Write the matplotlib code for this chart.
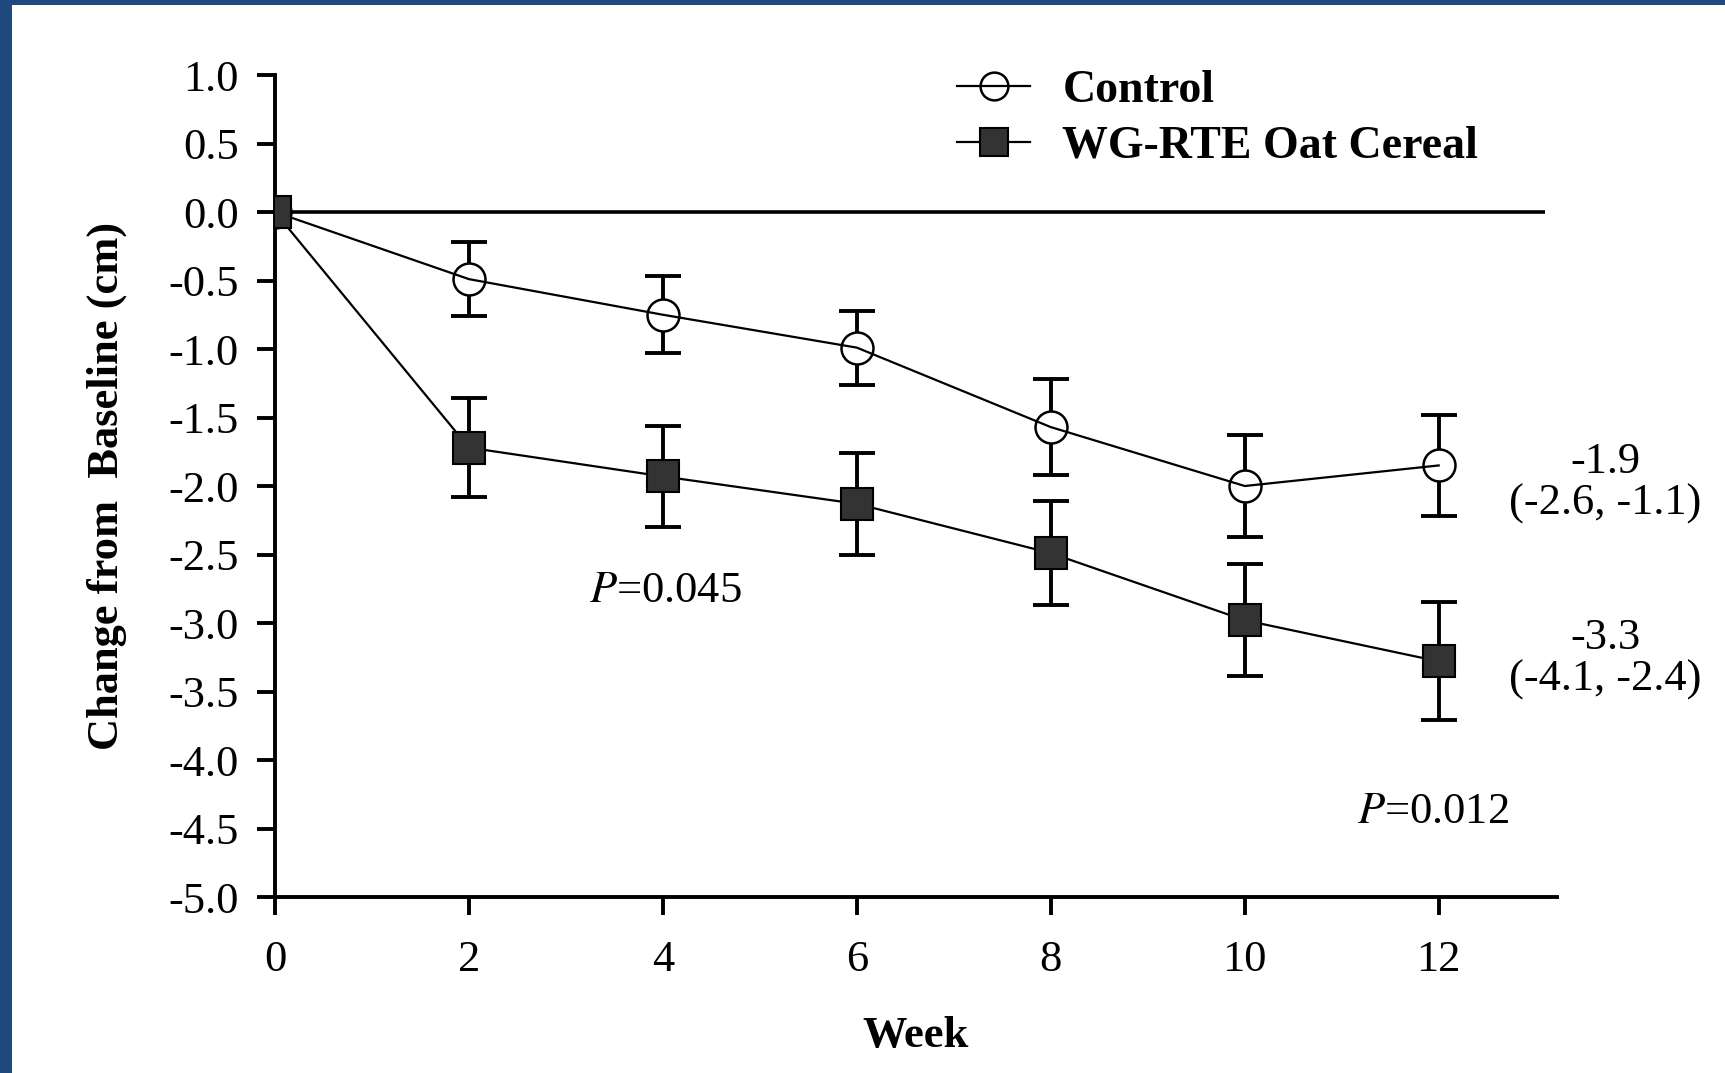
import matplotlib
matplotlib.use("Agg")
import matplotlib.pyplot as plt
from matplotlib.lines import Line2D
from matplotlib.patches import Rectangle
import numpy as np

plt.rcParams['font.family'] = ['Liberation Serif', 'DejaVu Serif']
plt.rcParams['mathtext.fontset'] = 'stix'
plt.rcParams['axes.unicode_minus'] = False

# data (change from baseline, cm)
weeks = [0, 2, 4, 6, 8, 10, 12]
control_mean = [0, -0.49, -0.75, -0.99, -1.57, -2.00, -1.85]
control_err = [0, 0.27, 0.28, 0.27, 0.35, 0.37, 0.37]
oat_mean = [0, -1.72, -1.93, -2.13, -2.49, -2.98, -3.28]
oat_err = [0, 0.36, 0.37, 0.37, 0.38, 0.41, 0.43]

yticks = np.arange(-5.0, 1.01, 0.5)
xticks = [0, 2, 4, 6, 8, 10, 12]

fs = 32

fig = plt.figure(figsize=(17.25, 10.73), dpi=100, facecolor='#1e4a7d')
# white page inside the blue frame
fig.patches.append(Rectangle((12 / 1725, 0), 1, (1073 - 5) / 1073,
                             transform=fig.transFigure, facecolor='white',
                             edgecolor='none', zorder=-10))

ax = fig.add_axes([275 / 1725, 176 / 1073, (1557 - 275) / 1725, 822 / 1073])
ax.set_facecolor('none')
ax.set_zorder(5)

# zero reference line
ax.plot([0, 13.1], [0, 0], color='black', lw=2.6, zorder=1, solid_capstyle='butt')

# error bars
ax.errorbar(weeks[1:], control_mean[1:], yerr=control_err[1:], fmt='none',
            ecolor='black', elinewidth=2.8, capsize=13, capthick=2.8, zorder=2)
ax.errorbar(weeks[1:], oat_mean[1:], yerr=oat_err[1:], fmt='none',
            ecolor='black', elinewidth=2.8, capsize=13, capthick=2.8, zorder=2)

# control: white circles, line drawn over them
ax.plot(weeks, control_mean, 'o', ms=23, mfc='white', mec='black', mew=1.8, zorder=3)
ax.plot(weeks, control_mean, '-', color='black', lw=1.6, zorder=4)

# oat cereal: filled squares
ax.plot(weeks, oat_mean, '-', color='black', lw=1.6, zorder=3)
ax.plot(weeks, oat_mean, 's', ms=23, mfc='#333333', mec='black', mew=1.5, zorder=5)

ax.set_xlim(0, 13.22)
ax.set_ylim(-5.0, 1.0)
ax.set_xticks(xticks)
ax.set_xticklabels([str(w) for w in xticks])
ax.set_yticks(yticks)
ax.set_yticklabels(['%.1f' % v for v in yticks])

for s in ['top', 'right']:
    ax.spines[s].set_visible(False)
for s in ['left', 'bottom']:
    ax.spines[s].set_linewidth(2.8)
ax.tick_params(axis='both', direction='out', length=13, width=2.8,
               labelsize=fs, color='black')
ax.tick_params(axis='y', pad=13)
ax.tick_params(axis='x', pad=18)

ax.set_xlabel('Week', fontsize=fs, fontweight='bold', labelpad=26)
ax.set_ylabel('Change from  Baseline (cm)', fontsize=fs, fontweight='bold', labelpad=30)

# annotations
ax.text(4.03, -2.77, '$P$=0.045', fontsize=fs, ha='center', va='center')
ax.text(11.94, -4.38, '$P$=0.012', fontsize=fs, ha='center', va='center')
ax.text(13.72, -1.98, '-1.9\n(-2.6, -1.1)', fontsize=fs, ha='center', va='center',
        linespacing=1.05, clip_on=False)
ax.text(13.72, -3.26, '-3.3\n(-4.1, -2.4)', fontsize=fs, ha='center', va='center',
        linespacing=1.05, clip_on=False)

handles = [
    Line2D([], [], color='black', lw=1.6, marker='o', ms=20, mfc='none', mec='black', mew=1.8),
    Line2D([], [], color='black', lw=1.6, marker='s', ms=20, mfc='#333333', mec='black', mew=1.5),
]
leg = ax.legend(handles, ['Control', 'WG-RTE Oat Cereal'], loc='upper left',
                bbox_to_anchor=(957 / 1725, 1 - 70 / 1073), bbox_transform=fig.transFigure,
                frameon=False, borderpad=0, borderaxespad=0, handlelength=1.6,
                handletextpad=0.7, labelspacing=0.3,
                prop={'size': fs + 1, 'weight': 'bold'})

fig.savefig('out.png', dpi=100, facecolor=fig.get_facecolor())
